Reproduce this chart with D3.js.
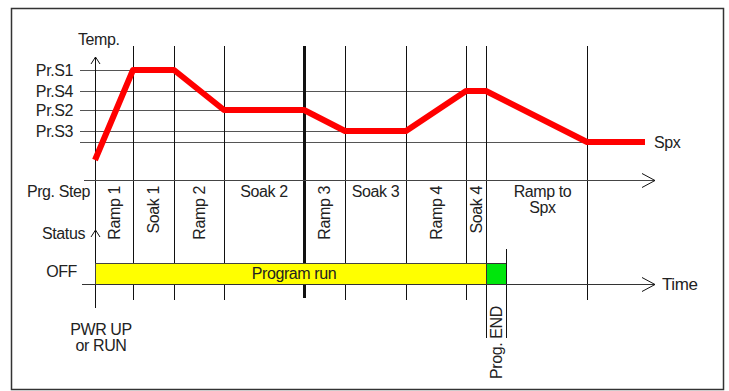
<!DOCTYPE html>
<html>
<head>
<meta charset="utf-8">
<script src="https://cdn.jsdelivr.net/npm/d3@7"></script>
<style>
  body { margin: 0; background: #fff; }
  text { font-family: "Liberation Sans", Arial, sans-serif; font-size: 16px; fill: #222; letter-spacing: -0.4px; }
</style>
</head>
<body>
<div id="chart"></div>
<script>
(function() {

    // program steps (time units along the x axis)
    var stepNames = ["Ramp 1", "Soak 1", "Ramp 2", "Soak 2", "Ramp 3", "Soak 3", "Ramp 4", "Soak 4", "Ramp to|Spx"];
    var stepRotated = [true, true, true, false, true, false, true, true, false];
    var stepEdges = [0, 38, 79, 129, 209, 250, 311, 371, 391, 492];

    // set points
    var levelNames = ["Pr.S1", "Pr.S4", "Pr.S2", "Pr.S3"];
    var levelValues = [90, 69, 50, 29];
    var spxValue = 18;

    // temperature profile
    var profileTime = [0, 38, 79, 129, 209, 250, 311, 371, 391, 492, 550];
    var profileTemp = [0, 90, 90, 50, 50, 29, 29, 69, 69, 18, 18];

    var runTime = 209,      // thick marker line
        endTime = 391,      // program end
        endBoxTime = 411;

    var width = 729, height = 391;

    var svg = d3.select("#chart")
            .append("svg")
            .attr("width", width)
            .attr("height", height);

    var x = d3.scaleLinear().domain([0, 560]).range([95, 655]);
    var y = d3.scaleLinear().domain([0, 90]).range([160, 70]);

    var stepAxisY = 180,
        timeAxisY = 284,
        barTop = 263;

    // frame
    svg.append("rect")
       .attr("x", 11.5).attr("y", 8.5)
       .attr("width", 712).attr("height", 381)
       .attr("fill", "none")
       .attr("stroke", "#333")
       .attr("stroke-width", 1.5);

    // level lines
    var levels = levelValues.concat([spxValue]);
    svg.selectAll(".level")
       .data(levels)
       .enter().append("line")
       .attr("class", "level")
       .attr("x1", 80)
       .attr("x2", function(d) { return x(profileTime[profileTemp.indexOf(d)]); })
       .attr("y1", function(d) { return Math.round(y(d)) + 0.5; })
       .attr("y2", function(d) { return Math.round(y(d)) + 0.5; })
       .attr("stroke", "#555")
       .attr("stroke-width", 1);

    svg.selectAll(".levelLabel")
       .data(levelValues)
       .enter().append("text")
       .attr("class", "levelLabel")
       .attr("x", 73)
       .attr("y", function(d) { return y(d); })
       .attr("dy", "0.35em")
       .attr("text-anchor", "end")
       .text(function(d, i) { return levelNames[i]; });

    // step boundaries
    var edges = stepEdges.slice(1);
    svg.selectAll(".step")
       .data(edges)
       .enter().append("line")
       .attr("class", "step")
       .attr("x1", function(d) { return Math.round(x(d)) + 0.5; })
       .attr("x2", function(d) { return Math.round(x(d)) + 0.5; })
       .attr("y1", 46)
       .attr("y2", function(d) { return d == endTime ? 338 : (d == runTime ? 298 : 300); })
       .attr("stroke", "#111")
       .attr("stroke-width", function(d) { return d == runTime ? 3 : 1; });

    // temp axis
    svg.append("line")
       .attr("x1", x(0) + 0.5).attr("x2", x(0) + 0.5)
       .attr("y1", 57).attr("y2", 308)
       .attr("stroke", "#111");

    function caretUp(cx, cy) {
        svg.append("path")
           .attr("d", "M" + (cx - 4.5) + "," + (cy + 7) + "L" + cx + "," + cy + "L" + (cx + 4.5) + "," + (cy + 7))
           .attr("fill", "none").attr("stroke", "#111");
    }
    function caretRight(cx, cy) {
        svg.append("path")
           .attr("d", "M" + (cx - 13) + "," + (cy - 7) + "L" + cx + "," + cy + "L" + (cx - 13) + "," + (cy + 7))
           .attr("fill", "none").attr("stroke", "#111");
    }
    caretUp(x(0) + 0.5, 57);
    caretUp(x(0) + 0.5, 230);

    // step axis
    svg.append("line")
       .attr("x1", 84).attr("x2", x(560))
       .attr("y1", stepAxisY + 0.5).attr("y2", stepAxisY + 0.5)
       .attr("stroke", "#444");
    caretRight(x(560), stepAxisY + 0.5);

    // profile
    var line = d3.line()
                 .x(function(d) { return x(d); })
                 .y(function(d, i) { return y(profileTemp[i]); });
    svg.append("path")
       .datum(profileTime)
       .attr("d", line)
       .attr("fill", "none")
       .attr("stroke", "#ff0000")
       .attr("stroke-width", 6)
       .attr("stroke-linejoin", "round");

    // step labels
    stepNames.forEach(function(name, i) {
        var cx = (x(stepEdges[i]) + x(stepEdges[i + 1])) / 2;
        if (stepRotated[i]) {
            svg.append("text")
               .attr("transform", "translate(" + (cx + 5.5) + ",186) rotate(-90)")
               .attr("text-anchor", "end")
               .text(name);
        } else {
            var parts = name.split("|");
            if (parts.length > 1) cx += 6;
            parts.forEach(function(p, j) {
                svg.append("text")
                   .attr("x", cx)
                   .attr("y", 191 + j * 16)
                   .attr("dy", "0.35em")
                   .attr("text-anchor", "middle")
                   .text(p);
            });
        }
    });

    // status bar
    svg.append("rect")
       .attr("x", x(0) + 0.5).attr("y", barTop + 0.5)
       .attr("width", x(endTime) - x(0)).attr("height", timeAxisY - barTop)
       .attr("fill", "#ffff00")
       .attr("stroke", "#444");
    svg.append("rect")
       .attr("x", x(endTime) + 0.5).attr("y", barTop + 0.5)
       .attr("width", x(endBoxTime) - x(endTime)).attr("height", timeAxisY - barTop)
       .attr("fill", "#00e60c")
       .attr("stroke", "#333");
    svg.append("line")
       .attr("x1", x(endBoxTime) + 0.5).attr("x2", x(endBoxTime) + 0.5)
       .attr("y1", 249).attr("y2", 338)
       .attr("stroke", "#111");

    svg.append("text")
       .attr("x", 294).attr("y", 273)
       .attr("dy", "0.35em")
       .attr("text-anchor", "middle")
       .text("Program run");

    // time axis
    svg.append("line")
       .attr("x1", 82).attr("x2", x(560))
       .attr("y1", timeAxisY + 0.5).attr("y2", timeAxisY + 0.5)
       .attr("stroke", "#333");
    caretRight(x(560), timeAxisY + 0.5);

    // labels
    svg.append("text").attr("x", 78).attr("y", 39).attr("dy", "0.35em").text("Temp.");
    svg.append("text").attr("x", 90).attr("y", 191).attr("dy", "0.35em").attr("text-anchor", "end").text("Prg. Step");
    svg.append("text").attr("x", 85).attr("y", 233).attr("dy", "0.35em").attr("text-anchor", "end").text("Status");
    svg.append("text").attr("x", 77).attr("y", 271).attr("dy", "0.35em").attr("text-anchor", "end").text("OFF");
    svg.append("text").attr("x", 101).attr("y", 329).attr("dy", "0.35em").attr("text-anchor", "middle").text("PWR UP");
    svg.append("text").attr("x", 101).attr("y", 345).attr("dy", "0.35em").attr("text-anchor", "middle").text("or RUN");
    svg.append("text").attr("x", 654).attr("y", y(spxValue)).attr("dy", "0.35em").text("Spx");
    svg.append("text").attr("x", 662).attr("y", timeAxisY).attr("dy", "0.35em").style("font-size", "17px").text("Time");
    svg.append("text")
       .attr("transform", "translate(" + ((x(endTime) + x(endBoxTime)) / 2 + 5.5) + ",379) rotate(-90)")
       .text("Prog. END");

})();
</script>
</body>
</html>
